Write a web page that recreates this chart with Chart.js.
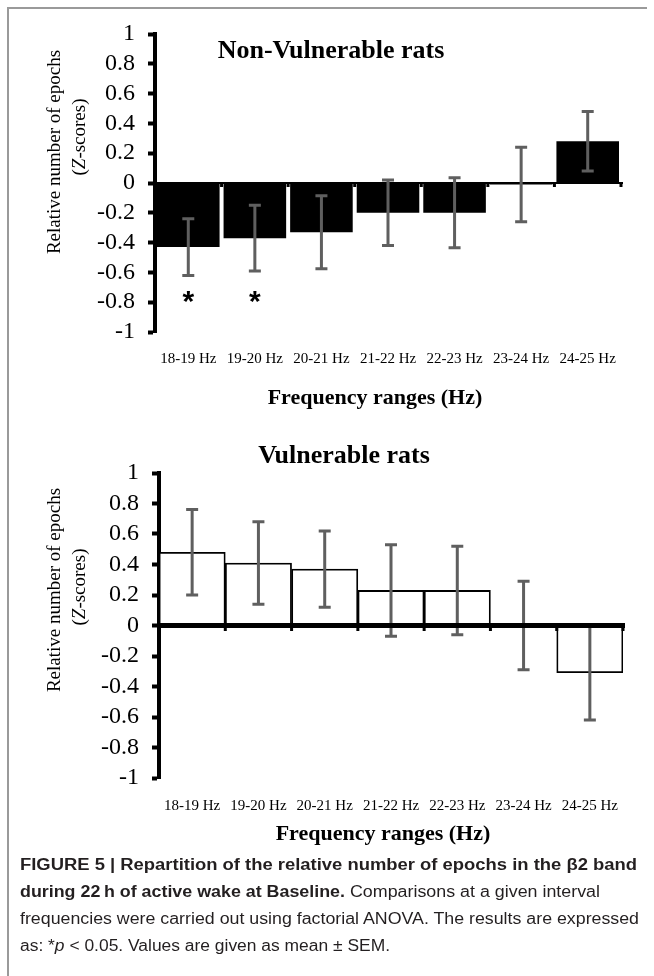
<!DOCTYPE html>
<html>
<head>
<meta charset="utf-8">
<title>Figure 5</title>
<script src="https://cdn.jsdelivr.net/npm/chart.js@4.4.1/dist/chart.umd.min.js"></script>
<style>
  body { margin: 0; background: #fff; }
  #page { position: relative; width: 654px; height: 976px; overflow: hidden; background: #fff; }
  #frame { position: absolute; left: 7px; top: 7px; width: 638px; height: 1000px; border-top: 2px solid #9a9a9a; border-left: 2px solid #9a9a9a; }
  canvas { position: absolute; left: 0; }
  #c1 { top: 0; }
  #c2 { top: 420px; }
  .serif { font-family: "Liberation Serif", "Times New Roman", serif; color: #000; }
  .c { position: absolute; transform: translate(-50%, -50%); white-space: nowrap; line-height: 1; }
  .rot { transform: translate(-50%, -50%) rotate(-90deg); }
  .ttl { font-weight: bold; font-size: 26px; }
  .xt { font-weight: bold; font-size: 22px; }
  .yt { font-size: 19px; }
  .cap { position: absolute; left: 20px; font-family: "Liberation Sans", Arial, sans-serif; font-size: 16px; line-height: 20px; white-space: nowrap; color: #231f20; transform-origin: 0 50%; display: inline-block; }
  .cap b { font-weight: bold; }
</style>
</head>
<body>
<div id="page">
  <div id="frame"></div>
  <canvas id="c1" width="654" height="420"></canvas>
  <canvas id="c2" width="654" height="440"></canvas>

  <div class="c serif ttl" style="left:331px; top:50px;">Non-Vulnerable rats</div>
  <div class="c serif yt rot" style="left:53px; top:152px;">Relative number of epochs</div>
  <div class="c serif yt rot" style="left:78px; top:137px;">(<i>Z</i>-scores)</div>
  <div class="c serif xt" style="left:375px; top:397px;">Frequency ranges (Hz)</div>

  <div class="c serif ttl" style="left:344px; top:455px;">Vulnerable rats</div>
  <div class="c serif yt rot" style="left:53px; top:590px;">Relative number of epochs</div>
  <div class="c serif yt rot" style="left:78px; top:587px;">(<i>Z</i>-scores)</div>
  <div class="c serif xt" style="left:383px; top:833px;">Frequency ranges (Hz)</div>

  <div class="cap" data-w="617" style="top:855px;"><b>FIGURE 5 | Repartition of the relative number of epochs in the β2 band</b></div>
  <div class="cap" data-w="580" style="top:882px;"><b>during 22&#8201;h of active wake at Baseline.</b> Comparisons at a given interval</div>
  <div class="cap" data-w="619" style="top:909px;">frequencies were carried out using factorial ANOVA. The results are expressed</div>
  <div class="cap" data-w="370" style="top:936px;">as: *<i>p</i> &lt; 0.05. Values are given as mean ± SEM.</div>
</div>

<script>
// categories (frequency bins)
var categories = ['18-19 Hz', '19-20 Hz', '20-21 Hz', '21-22 Hz', '22-23 Hz', '23-24 Hz', '24-25 Hz'];

// Non-Vulnerable rats: mean and SEM (Z-scores)
var nonVulnMean = [-0.43, -0.37, -0.33, -0.20, -0.20, -0.01, 0.28];
var nonVulnSem  = [0.19, 0.22, 0.245, 0.22, 0.235, 0.25, 0.20];
var nonVulnStar = [true, true, false, false, false, false, false];   // *p < 0.05

// Vulnerable rats: mean and SEM (Z-scores)
var vulnMean = [0.48, 0.41, 0.37, 0.23, 0.23, 0.00, -0.31];
var vulnSem  = [0.28, 0.27, 0.25, 0.30, 0.29, 0.29, 0.31];
var vulnStar = [false, false, false, false, false, false, false];

// y axis
var yMin = -1, yMax = 1, yStep = 0.2;

var SERIF = '"Liberation Serif", "Times New Roman", serif';
Chart.defaults.font.family = SERIF;
Chart.defaults.color = '#000';

// error bars, zero line, boundary marks and asterisks
var errorBarPlugin = {
    id: 'errorBars',
    afterDatasetsDraw: function (chart, args, opts) {
        var ctx = chart.ctx,
            xs = chart.scales.x,
            ys = chart.scales.y,
            area = chart.chartArea,
            meta = chart.getDatasetMeta(0),
            means = chart.data.datasets[0].data;
        var y0 = ys.getPixelForValue(0);
        var half = (xs.getPixelForValue(1) - xs.getPixelForValue(0)) / 2;

        function zeroLine() {
            ctx.strokeStyle = '#000';
            ctx.lineWidth = opts.zero;
            ctx.beginPath();
            ctx.moveTo(area.left, y0);
            ctx.lineTo(area.right + 2, y0);
            ctx.stroke();
            // little marks under the axis at the category boundaries
            ctx.lineWidth = 3;
            for (var k = 1; k <= categories.length; k++) {
                var xb = xs.getPixelForValue(k) - half;
                ctx.beginPath();
                ctx.moveTo(xb, y0);
                ctx.lineTo(xb, y0 + opts.zero / 2 + 3);
                ctx.stroke();
            }
        }

        ctx.save();
        if (!opts.zeroOnTop) zeroLine();

        ctx.strokeStyle = '#5f5f5f';
        ctx.lineWidth = 3;
        meta.data.forEach(function (bar, i) {
            var top = ys.getPixelForValue(means[i] + opts.sem[i]),
                bot = ys.getPixelForValue(means[i] - opts.sem[i]);
            ctx.beginPath();
            ctx.moveTo(bar.x, top); ctx.lineTo(bar.x, bot);
            ctx.moveTo(bar.x - 6, top); ctx.lineTo(bar.x + 6, top);
            ctx.moveTo(bar.x - 6, bot); ctx.lineTo(bar.x + 6, bot);
            ctx.stroke();
        });

        if (opts.zeroOnTop) zeroLine();

        // significance stars
        ctx.fillStyle = '#000';
        ctx.font = 'bold 30px "Liberation Sans", Arial, sans-serif';
        ctx.textAlign = 'center';
        ctx.textBaseline = 'alphabetic';
        opts.stars.forEach(function (s, i) {
            if (!s) return;
            ctx.fillText('*', xs.getPixelForValue(i), ys.getPixelForValue(-0.76) + 15);
        });
        ctx.restore();
    }
};

function buildChart(id, means, sems, stars, look) {
    return new Chart(document.getElementById(id), {
        type: 'bar',
        data: {
            labels: categories,
            datasets: [{
                data: means,
                backgroundColor: look.fill,
                borderColor: '#000',
                borderWidth: look.border,
                barPercentage: look.barPct,
                categoryPercentage: 1
            }]
        },
        options: {
            responsive: false,
            animation: false,
            layout: { padding: look.pad },
            plugins: {
                legend: { display: false },
                tooltip: { enabled: false },
                errorBars: { sem: sems, stars: stars, zero: look.zero, zeroOnTop: look.zeroOnTop }
            },
            scales: {
                x: {
                    offset: true,
                    grid: { display: false },
                    border: { display: false },
                    ticks: { font: { family: SERIF, size: 15 }, color: '#000', padding: look.xPad, maxRotation: 0, autoSkip: false },
                    afterFit: function (s) { s.height = 40; }
                },
                y: {
                    min: yMin,
                    max: yMax,
                    ticks: {
                        stepSize: yStep,
                        autoSkip: false,
                        font: { family: SERIF, size: 24 },
                        color: '#000',
                        padding: 13,
                        callback: function (v) { return String(Math.round(v * 10) / 10); }
                    },
                    grid: { drawOnChartArea: false, drawTicks: true, tickLength: 7, tickWidth: 4, tickColor: '#000' },
                    border: { display: true, width: 4, color: '#000' },
                    afterFit: function (s) { s.width = look.axisX; }
                }
            }
        },
        plugins: [errorBarPlugin]
    });
}

buildChart('c1', nonVulnMean, nonVulnSem, nonVulnStar, {
    fill: '#000', border: 0, barPct: 0.94, zero: 2, zeroOnTop: false, xPad: 10, axisX: 155,
    pad: { left: 0, right: 33, top: 34, bottom: 48 }
});

buildChart('c2', vulnMean, vulnSem, vulnStar, {
    fill: '#fff', border: 1.8, barPct: 1, zero: 5, zeroOnTop: true, xPad: 11, axisX: 159,
    pad: { left: 0, right: 31, top: 53, bottom: 42 }
});

// squeeze the caption lines to the width they have in the figure
document.querySelectorAll('.cap').forEach(function (el) {
    var w = el.getBoundingClientRect().width;
    var target = +el.getAttribute('data-w');
    el.style.transform = 'scaleX(' + (target / w) + ')';
});
</script>
</body>
</html>
